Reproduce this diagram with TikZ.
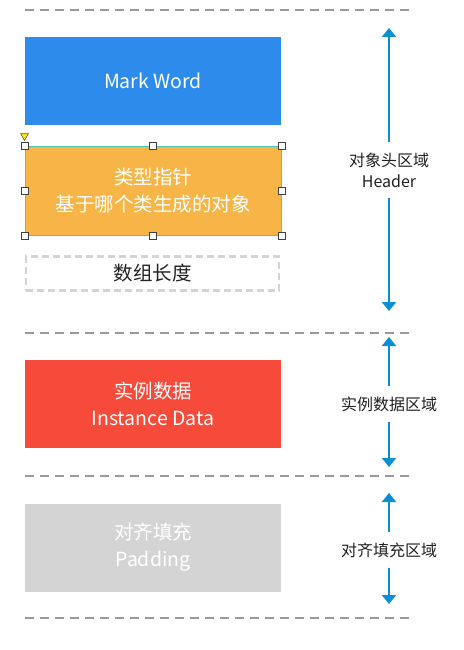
\documentclass[tikz,border=0pt]{standalone}
\usepackage{fontspec}
\setmainfont{Noto Sans CJK SC}
\usetikzlibrary{arrows.meta,calc}
\definecolor{markblue}{HTML}{2D8CEB}
\definecolor{ptrorange}{HTML}{F6B546}
\definecolor{selteal}{HTML}{4FC6B8}
\definecolor{datared}{HTML}{F64A3A}
\definecolor{padgray}{HTML}{D4D4D4}
\definecolor{sepgray}{HTML}{9A9A9A}
\definecolor{arrowblue}{HTML}{0A8FD2}
\definecolor{txtdark}{HTML}{222222}
\tikzset{
  block/.style={minimum width=256pt, minimum height=88pt, inner sep=0pt, align=center,
    font=\fontsize{19.5}{27}\selectfont, text=white},
  separator/.style={sepgray, line width=1.2pt, dash pattern=on 9pt off 6pt},
  region/.style={arrowblue, line width=2.2pt, -{Triangle[length=9pt,width=14pt]}},
  regionlabel/.style={font=\fontsize{16}{21}\selectfont, text=txtdark, align=center, inner sep=0pt},
  handle/.style={draw=black!75, fill=white, line width=0.6pt, minimum size=7pt, inner sep=0pt}
}
\begin{document}
\begin{tikzpicture}[x=1pt,y=-1pt]
\useasboundingbox[fill=white] (0,0) rectangle (463,650);

% section separators
\draw[separator] (25,10) -- (410,10);
\draw[separator] (25,333) -- (410,333);
\draw[separator] (25,476) -- (410,476);
\draw[separator] (25,618) -- (410,618);

% header blocks
\node[block, fill=markblue] (mark) at (153,81) {Mark Word};
\node[block, fill=ptrorange, draw=selteal, line width=1pt, minimum height=89pt] (ptr) at (153,190.5)
  {类型指针\\基于哪个类生成的对象};
\node[draw=padgray, line width=2.6pt, dash pattern=on 7pt off 4pt, minimum width=253pt,
  minimum height=34pt, inner sep=0pt, font=\fontsize{19.5}{22}\selectfont, text=txtdark]
  (len) at (152.5,273.5) {数组长度};

% selection handles on the pointer block
\foreach \p in {north west,north,north east,west,east,south west,south,south east}
  \node[handle] at (ptr.\p) {};
\fill[yellow!90!orange, draw=black!70, line width=0.5pt]
  ($(ptr.north west)+(-4,-12)$) -- ++(8,0) -- ++(-4,7) -- cycle;

% instance data and padding
\node[block, fill=datared] (data) at (153,404) {实例数据\\Instance Data};
\node[block, fill=padgray] (pad) at (153,547.5) {对齐填充\\Padding};

% region labels with double arrows
\node[regionlabel] (hdr) at (389,170) {对象头区域\\Header};
\coordinate (hdrtop) at (389,28);
\coordinate (hdrbot) at (389,311);
\draw[region] ($(hdr.north)+(0,-10)$) -- (hdrtop);
\draw[region] ($(hdr.south)+(0,10)$) -- (hdrbot);

\node[regionlabel] (inst) at (389,404) {实例数据区域};
\coordinate (insttop) at (389,337);
\coordinate (instbot) at (389,467);
\draw[region] ($(inst.north)+(0,-10)$) -- (insttop);
\draw[region] ($(inst.south)+(0,10)$) -- (instbot);

\node[regionlabel] (padl) at (389,550) {对齐填充区域};
\coordinate (padtop) at (389,493);
\coordinate (padbot) at (389,604);
\draw[region] ($(padl.north)+(0,-10)$) -- (padtop);
\draw[region] ($(padl.south)+(0,10)$) -- (padbot);
\end{tikzpicture}
\end{document}
